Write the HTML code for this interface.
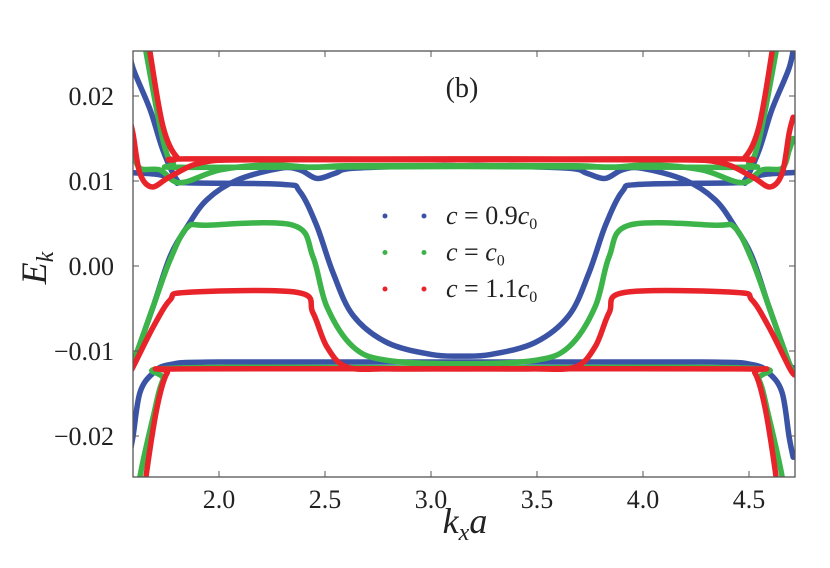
<!DOCTYPE html>
<html><head><meta charset="utf-8"><style>
body{margin:0;background:#fff}
svg{display:block}
text{font-family:"Liberation Serif",serif;fill:#222}
</style></head><body>
<svg id="chart" width="830" height="568" viewBox="0 0 830 568" xmlns="http://www.w3.org/2000/svg">
<defs><clipPath id="clip"><rect x="133" y="51" width="662" height="426"/></clipPath></defs>
<g id="bands" clip-path="url(#clip)"></g>
<rect x="133" y="51" width="662" height="426" fill="none" stroke="#555" stroke-width="1.3"/>
<g id="axes"></g>
<text x="462" y="97" font-size="28" text-anchor="middle">(b)</text>
<g id="legend"></g>
<text x="465" y="533" font-size="36" font-style="italic" text-anchor="middle">k<tspan font-size="24" dy="7">x</tspan><tspan dy="-7">a</tspan></text>
<text transform="translate(46,268) rotate(-90)" font-size="36" font-style="italic" text-anchor="middle">E<tspan font-size="24" dy="7">k</tspan></text>
</svg>
<script>
const xTicks=[2.0,2.5,3.0,3.5,4.0,4.5];
const yTicks=[0.02,0.01,0.00,-0.01,-0.02];
const seriesNames=["c = 0.9c0","c = c0","c = 1.1c0"];
const seriesColors=["#3a53a4","#3cb44a","#e8232a"];
// half-bands (k from left edge to pi), mirrored about pi
const blueBands=[
 [[1.57,.0262],[1.594,.0233],[1.675,.0184],[1.736,.0136],[1.802,.0101],[1.849,.0098],[2.30,.0096],[2.38,.0088],[2.46,.0048],[2.538,-.0008],[2.632,-.0058],[2.792,-.0090],[3.0,-.0104],[3.1416,-.0106]],
 [[1.57,-.0120],[1.594,-.0114],[1.689,-.0048],[1.769,.0011],[1.849,.0046],[1.943,.0078],[2.085,.0101],[2.288,.0115],[2.382,.0113],[2.462,.0103],[2.547,.0109],[2.632,.0115],[3.0,.0118],[3.1416,.0118]],
 [[1.57,.0110],[1.70,.0108],[1.78,.0104]],
 [[1.575,-.0225],[1.594,-.0201],[1.627,-.0149],[1.689,-.0126],[1.769,-.0116],[2.0,-.0113],[3.1416,-.0113]]
];
const greenBands=[
 [[1.64,.0280],[1.66,.0246],[1.736,.0148],[1.783,.0121],[1.863,.0116],[3.1416,.0117]],
 [[1.575,.0150],[1.594,.0136],[1.627,.0115],[1.722,.0113],[1.816,.0098],[2.005,.0113],[2.241,.0119],[2.443,.0116],[2.6,.0118],[3.1416,.0118]],
 [[1.57,-.0125],[1.594,-.0114],[1.689,-.0048],[1.769,.0007],[1.849,.0045],[1.943,.0048],[2.349,.0048],[2.443,.0011],[2.509,-.0048],[2.632,-.0095],[2.792,-.0111],[3.1416,-.0115]],
 [[1.61,-.0290],[1.627,-.0248],[1.689,-.0178],[1.736,-.0134],[1.802,-.0120],[3.1416,-.0120]]
];
const redBands=[
 [[1.655,.0290],[1.675,.0251],[1.736,.0164],[1.802,.0128],[1.877,.0126],[3.1416,.0126]],
 [[1.575,.0175],[1.594,.0156],[1.627,.0109],[1.684,.0093],[1.769,.0105],[1.925,.0122],[2.2,.0125],[3.1416,.0125]],
 [[1.57,-.0128],[1.594,-.0119],[1.689,-.0072],[1.769,-.0040],[1.849,-.0031],[2.368,-.0031],[2.443,-.0055],[2.509,-.0095],[2.604,-.0119],[2.8,-.0121],[3.1416,-.0121]],
 [[1.64,-.0285],[1.66,-.0240],[1.708,-.0166],[1.755,-.0126],[1.816,-.0121],[3.1416,-.0121]]
];
const allBands=[blueBands,greenBands,redBands];
const NS="http://www.w3.org/2000/svg";
const X=v=>219+(v-2)*212;
const Y=v=>266-v*8500;
function smoothPath(pts){
 let d="M"+X(pts[0][0])+","+Y(pts[0][1]);
 for(let i=0;i<pts.length-1;i++){
  const p0=pts[Math.max(0,i-1)],p1=pts[i],p2=pts[i+1],p3=pts[Math.min(pts.length-1,i+2)];
  const c1x=X(p1[0])+(X(p2[0])-X(p0[0]))/6,c1y=Y(p1[1])+(Y(p2[1])-Y(p0[1]))/6;
  const c2x=X(p2[0])-(X(p3[0])-X(p1[0]))/6,c2y=Y(p2[1])-(Y(p3[1])-Y(p1[1]))/6;
  d+=" C"+c1x+","+c1y+" "+c2x+","+c2y+" "+X(p2[0])+","+Y(p2[1]);
 }
 return d;
}
const g=document.getElementById("bands");
allBands.forEach((bands,si)=>{
 bands.forEach((b,bi)=>{
  const mirrored=b.slice(0,-1).reverse().map(p=>[2*Math.PI-p[0],p[1]]);
  const full=(b[b.length-1][0]>3.1)?b.concat(mirrored):null;
  const parts=full?[full]:[b,b.map(p=>[2*Math.PI-p[0],p[1]]).reverse()];
  parts.forEach(pts=>{
   const p=document.createElementNS(NS,"path");
   p.setAttribute("d",smoothPath(pts));
   p.setAttribute("fill","none");
   p.setAttribute("stroke",seriesColors[si]);
   p.setAttribute("stroke-width","5.5");
   p.setAttribute("stroke-linecap","round");
   
   
   g.appendChild(p);
  });
 });
});
const ax=document.getElementById("axes");
xTicks.forEach(t=>{
 const l=document.createElementNS(NS,"line");
 l.setAttribute("x1",X(t));l.setAttribute("x2",X(t));l.setAttribute("y1",477);l.setAttribute("y2",471);
 l.setAttribute("stroke","#555");
 
 
 ax.appendChild(l);
 const l2=l.cloneNode();l2.setAttribute("y1",51);l2.setAttribute("y2",57);ax.appendChild(l2);
 const tx=document.createElementNS(NS,"text");
 tx.setAttribute("x",X(t));tx.setAttribute("y",508);tx.setAttribute("font-size","26");tx.setAttribute("text-anchor","middle");
 tx.textContent=t.toFixed(1);
 
 
 ax.appendChild(tx);
});
yTicks.forEach(t=>{
 const l=document.createElementNS(NS,"line");
 l.setAttribute("x1",133);l.setAttribute("x2",139);l.setAttribute("y1",Y(t));l.setAttribute("y2",Y(t));
 l.setAttribute("stroke","#555");
 
 
 ax.appendChild(l);
 const l2=l.cloneNode();l2.setAttribute("x1",795);l2.setAttribute("x2",789);ax.appendChild(l2);
 const tx=document.createElementNS(NS,"text");
 tx.setAttribute("x",114);tx.setAttribute("y",Y(t)+9);tx.setAttribute("font-size","26");tx.setAttribute("text-anchor","end");
 tx.textContent=(t<0?"\u2212":"")+Math.abs(t).toFixed(2);
 
 
 ax.appendChild(tx);
});
const lg=document.getElementById("legend");
const labelsHTML=['<tspan font-style="italic">c</tspan> = 0.9<tspan font-style="italic">c</tspan><tspan font-size="16" dy="5">0</tspan>',
 '<tspan font-style="italic">c</tspan> = <tspan font-style="italic">c</tspan><tspan font-size="16" dy="5">0</tspan>',
 '<tspan font-style="italic">c</tspan> = 1.1<tspan font-style="italic">c</tspan><tspan font-size="16" dy="5">0</tspan>'];
seriesNames.forEach((n,i)=>{
 const y=216+i*36.5;
 [385,424].forEach(x=>{
  const c=document.createElementNS(NS,"circle");
  c.setAttribute("cx",x);c.setAttribute("cy",y);c.setAttribute("r",2.5);c.setAttribute("fill",seriesColors[i]);
  
  
  lg.appendChild(c);
 });
 const t=document.createElementNS(NS,"text");
 t.setAttribute("x",446);t.setAttribute("y",y+8);t.setAttribute("font-size","26");
 t.innerHTML=labelsHTML[i];
 
 
 lg.appendChild(t);
});
</script>
</body></html>
